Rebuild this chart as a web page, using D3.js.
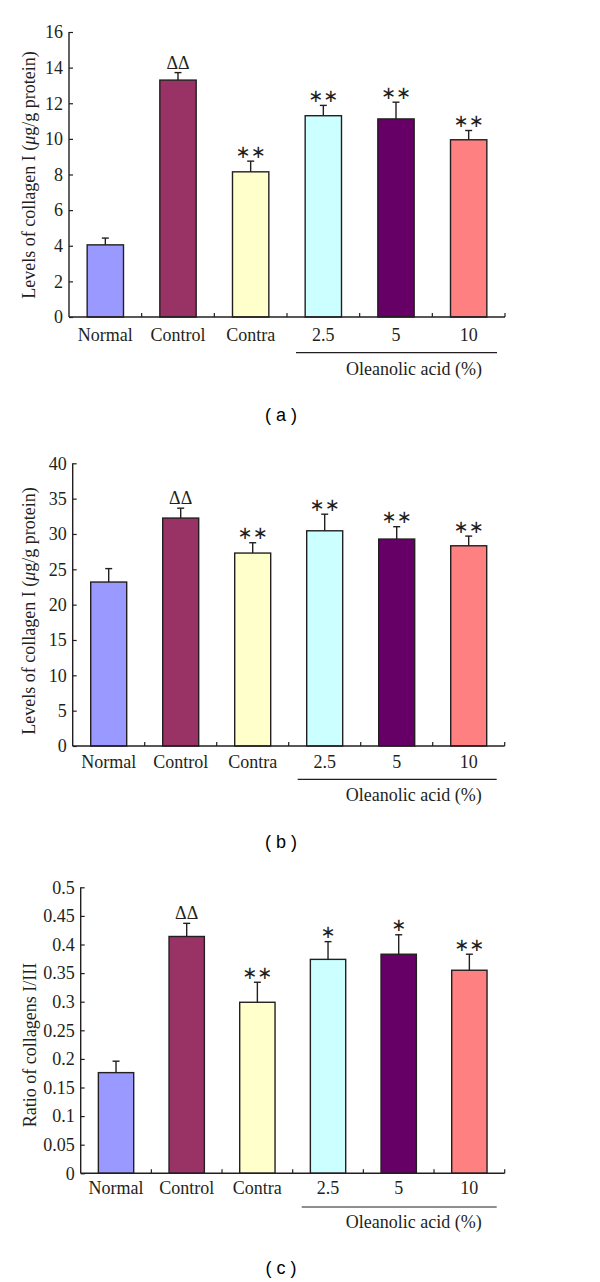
<!DOCTYPE html>
<html>
<head>
<meta charset="utf-8">
<script src="https://cdn.jsdelivr.net/npm/d3@7"></script>
<style>
  html, body { margin: 0; padding: 0; background: #fff; }
  svg { display: block; }
</style>
</head>
<body>
<svg id="chart" width="600" height="1282"></svg>
<script>
// ---------- data ----------
const categories = ["Normal", "Control", "Contra", "2.5", "5", "10"];
const barColors = ["#9999FF", "#993366", "#FFFFCC", "#CCFFFF", "#660066", "#FF8080"];

const collagenA = [4.05, 13.3, 8.15, 11.3, 11.12, 9.95];
const errorA = [0.38, 0.42, 0.6, 0.58, 0.94, 0.52];
const markersA = ["", "ΔΔ", "∗∗", "∗∗", "∗∗", "∗∗"];
const ticksA = [0, 2, 4, 6, 8, 10, 12, 14, 16];

const collagenB = [23.2, 32.25, 27.3, 30.45, 29.28, 28.33];
const errorB = [1.9, 1.4, 1.46, 2.35, 1.75, 1.37];
const markersB = ["", "ΔΔ", "∗∗", "∗∗", "∗∗", "∗∗"];
const ticksB = [0, 5, 10, 15, 20, 25, 30, 35, 40];

const ratioC = [0.176, 0.414, 0.299, 0.374, 0.383, 0.355];
const errorC = [0.02, 0.023, 0.035, 0.031, 0.034, 0.028];
const markersC = ["", "ΔΔ", "∗∗", "∗", "∗", "∗∗"];
const ticksC = [0, 0.05, 0.1, 0.15, 0.2, 0.25, 0.3, 0.35, 0.4, 0.45, 0.5];

const groupLabel = "Oleanolic acid (%)";

// ---------- layout ----------
const svg = d3.select("#chart");
const INK = "#231f20";
const SERIF = "'Liberation Serif', 'Times New Roman', serif";

const panels = [
  { values: collagenA, errors: errorA, markers: markersA, ticks: ticksA, max: 16,
    x0: 69, x1: 505, yTop: 32, yBot: 317,
    yLabel: ["Levels of collagen I (", "μ", "g/g protein)"], yLabelX: 29, yLabelY: 175,
    catDy: 18, lineDy: 35.7, textDy: 52, tag: "( a )", tagY: 415, fmt: d3.format("d") },
  { values: collagenB, errors: errorB, markers: markersB, ticks: ticksB, max: 40,
    x0: 72.7, x1: 504.7, yTop: 463.3, yBot: 746,
    yLabel: ["Levels of collagen I (", "μ", "g/g protein)"], yLabelX: 29, yLabelY: 611,
    catDy: 16, lineDy: 33.3, textDy: 49, tag: "( b )", tagY: 841.7, fmt: d3.format("d") },
  { values: ratioC, errors: errorC, markers: markersC, ticks: ticksC, max: 0.5,
    x0: 80.7, x1: 504.7, yTop: 887.3, yBot: 1173.3,
    yLabel: ["Ratio of collagens I/III"], yLabelX: 30, yLabelY: 1045,
    catDy: 15, lineDy: 33.7, textDy: 48.4, tag: "( c )", tagY: 1268, fmt: d => String(+d.toFixed(2)) }
];

panels.forEach(p => {
  const g = svg.append("g");
  const x = d3.scaleBand().domain(categories).range([p.x0, p.x1]).paddingInner(0.5).paddingOuter(0.25);
  const y = d3.scaleLinear().domain([0, p.max]).range([p.yBot, p.yTop]);
  const step = x.step();

  // bars
  g.selectAll("rect.bar").data(categories).join("rect")
    .attr("class", "bar")
    .attr("x", d => x(d))
    .attr("width", x.bandwidth())
    .attr("y", (d, i) => y(p.values[i]))
    .attr("height", (d, i) => y(0) - y(p.values[i]))
    .attr("fill", (d, i) => barColors[i])
    .attr("stroke", INK).attr("stroke-width", 1.4);

  // error bars (upper)
  const eb = g.selectAll("g.err").data(categories).join("g").attr("class", "err");
  eb.append("line")
    .attr("x1", d => x(d) + x.bandwidth() / 2).attr("x2", d => x(d) + x.bandwidth() / 2)
    .attr("y1", (d, i) => y(p.values[i])).attr("y2", (d, i) => y(p.values[i] + p.errors[i]))
    .attr("stroke", INK).attr("stroke-width", 1.4);
  eb.append("line")
    .attr("x1", d => x(d) + x.bandwidth() / 2 - 3.5).attr("x2", d => x(d) + x.bandwidth() / 2 + 3.5)
    .attr("y1", (d, i) => y(p.values[i] + p.errors[i])).attr("y2", (d, i) => y(p.values[i] + p.errors[i]))
    .attr("stroke", INK).attr("stroke-width", 1.4);

  // significance markers
  g.selectAll("text.mark").data(categories).join("text")
    .attr("class", "mark")
    .attr("x", d => x(d) + x.bandwidth() / 2)
    .attr("y", (d, i) => y(p.values[i] + p.errors[i]) - 10)
    .attr("text-anchor", "middle")
    .attr("dominant-baseline", "central")
    .attr("fill", INK)
    .style("font-family", (d, i) => p.markers[i].startsWith("Δ") ? SERIF : "'DejaVu Sans', sans-serif")
    .style("font-size", "18px")
    .text((d, i) => p.markers[i]);

  // y axis
  const yAxis = d3.axisLeft(y).tickValues(p.ticks).tickFormat(p.fmt).tickSizeInner(-4).tickSizeOuter(0).tickPadding(6);
  const ya = g.append("g").attr("transform", `translate(${p.x0},0)`).call(yAxis);
  ya.select(".domain").attr("stroke", INK).attr("stroke-width", 1.4).attr("d", `M0,${p.yTop}V${p.yBot}`);
  ya.selectAll(".tick line").attr("stroke", INK).attr("stroke-width", 1.2);
  ya.selectAll(".tick text").attr("fill", INK).style("font-family", SERIF).style("font-size", "18px");

  // x axis line + boundary ticks
  g.append("line").attr("x1", p.x0).attr("x2", p.x1).attr("y1", p.yBot).attr("y2", p.yBot)
    .attr("stroke", INK).attr("stroke-width", 1.4);
  g.selectAll("line.xt").data(categories).join("line")
    .attr("class", "xt")
    .attr("x1", d => x(d) + x.bandwidth() / 2 + step / 2).attr("x2", d => x(d) + x.bandwidth() / 2 + step / 2)
    .attr("y1", p.yBot).attr("y2", p.yBot - 4)
    .attr("stroke", INK).attr("stroke-width", 1.2);

  // category labels
  g.selectAll("text.cat").data(categories).join("text")
    .attr("class", "cat")
    .attr("x", d => x(d) + x.bandwidth() / 2)
    .attr("y", p.yBot + p.catDy)
    .attr("text-anchor", "middle").attr("dominant-baseline", "central")
    .attr("fill", INK)
    .style("font-family", SERIF).style("font-size", "18px")
    .text(d => d);

  // group underline and label
  const lx1 = x("2.5") + x.bandwidth() / 2 - step / 2 + 9;
  const lx2 = x("10") + x.bandwidth() / 2 + step / 2 - 8;
  g.append("line").attr("x1", lx1).attr("x2", lx2)
    .attr("y1", p.yBot + p.lineDy).attr("y2", p.yBot + p.lineDy)
    .attr("stroke", INK).attr("stroke-width", 1.2);
  g.append("text")
    .attr("x", lx2 - 15).attr("y", p.yBot + p.textDy)
    .attr("text-anchor", "end").attr("dominant-baseline", "central")
    .attr("fill", INK)
    .style("font-family", SERIF).style("font-size", "18px")
    .text(groupLabel);

  // y label
  const yl = g.append("text")
    .attr("transform", `translate(${p.yLabelX},${p.yLabelY}) rotate(-90)`)
    .attr("text-anchor", "middle").attr("dominant-baseline", "central")
    .attr("fill", INK)
    .style("font-family", SERIF).style("font-size", "18px");
  p.yLabel.forEach((t, i) => {
    yl.append("tspan").text(t).style("font-style", t === "μ" ? "italic" : "normal");
  });

  // panel tag
  g.append("text")
    .attr("x", 281).attr("y", p.tagY)
    .attr("text-anchor", "middle").attr("dominant-baseline", "central")
    .attr("fill", "#000")
    .style("font-family", "'Liberation Sans', Arial, sans-serif").style("font-size", "18px")
    .style("white-space", "pre")
    .text(p.tag);
});
</script>
</body>
</html>
